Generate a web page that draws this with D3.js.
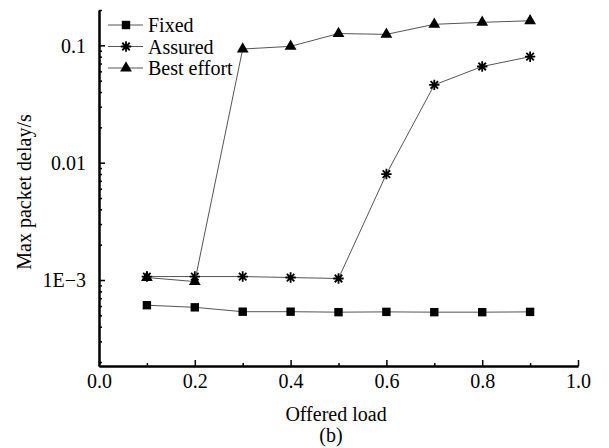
<!DOCTYPE html>
<meta charset="utf-8">
<style>
body { margin: 0; background: #fff; }
svg text { font-family: "Liberation Serif", "Times New Roman", Times, "Nimbus Roman", FreeSerif, "DejaVu Serif", serif; }
.axis path, .axis line { stroke: #000; }
.axis path { stroke-width: 2; }
.axis line { stroke-width: 1.5; }
.axis text { font-size: 20px; fill: #000; }
.series { fill: none; stroke: #555; stroke-width: 1; }
.label { font-size: 20px; fill: #000; }
</style>
<svg width="609" height="448"></svg>
<script src="https://d3js.org/d3.v7.min.js"></script>
<script>
var loads = [0.1, 0.2, 0.3, 0.4, 0.5, 0.6, 0.7, 0.8, 0.9];
var fixed = [6.1e-4, 5.85e-4, 5.37e-4, 5.37e-4, 5.32e-4, 5.35e-4, 5.32e-4, 5.32e-4, 5.35e-4];
var assured = [1.07e-3, 1.07e-3, 1.07e-3, 1.05e-3, 1.03e-3, 0.008, 0.046, 0.066, 0.08];
var bestEffort = [1.05e-3, 0.97e-3, 0.093, 0.098, 0.126, 0.124, 0.151, 0.157, 0.162];
var seriesNames = ["Fixed", "Assured", "Best effort"];
var xTicks = [0, 0.2, 0.4, 0.6, 0.8, 1.0];
var xMinor = [0.1, 0.3, 0.5, 0.7, 0.9];
var yTicks = [1e-3, 0.01, 0.1];
var yTickLabels = ["1E\u22123", "0.01", "0.1"];

var svg = d3.select("svg");

var x = d3.scaleLinear().domain([0, 1.0]).range([99, 578]);
var y = d3.scaleLog().domain([1.85e-4, 0.2]).range([366, 10]);

// minor log ticks 2..9 of each decade
var yMinor = [];
[1e-4, 1e-3, 1e-2, 1e-1].forEach(function(d) {
  for (var k = 2; k <= 9; k++) {
    var v = k * d;
    if (v >= y.domain()[0] && v <= y.domain()[1] * 1.0001) yMinor.push(v);
  }
});

// x axis
svg.append("g")
    .attr("class", "axis")
    .attr("transform", "translate(0,366)")
    .call(d3.axisBottom(x).tickValues(xMinor).tickSizeInner(-3).tickSizeOuter(0).tickFormat(""));
svg.append("g")
    .attr("class", "axis")
    .attr("transform", "translate(0,366)")
    .call(d3.axisBottom(x).tickValues(xTicks).tickSizeInner(-6).tickSizeOuter(0)
      .tickPadding(8).tickFormat(d3.format(".1f")))
  .selectAll("text")
    .attr("dy", "0.71em");

// y axis
svg.append("g")
    .attr("class", "axis")
    .attr("transform", "translate(99,0)")
    .call(d3.axisLeft(y).tickValues(yMinor).tickSizeInner(-3).tickSizeOuter(0).tickFormat(""));
svg.append("g")
    .attr("class", "axis")
    .attr("transform", "translate(99,0)")
    .call(d3.axisLeft(y).tickValues(yTicks).tickSizeInner(-6).tickSizeOuter(0)
      .tickPadding(13).tickFormat(function(d, i) { return yTickLabels[i]; }))
  .selectAll("text")
    .attr("dy", "0.34em");

svg.selectAll(".axis").attr("font-family", null);

// axis titles
svg.append("text")
    .attr("class", "label")
    .attr("text-anchor", "middle")
    .attr("transform", "translate(31,192) rotate(-90)")
    .text("Max packet delay/s");
svg.append("text")
    .attr("class", "label")
    .attr("text-anchor", "middle")
    .attr("x", 336)
    .attr("y", 421)
    .text("Offered load");
svg.append("text")
    .attr("class", "label")
    .attr("text-anchor", "middle")
    .attr("x", 331)
    .attr("y", 442)
    .text("(b)");

// markers
function asterisk(r) {
  var a = r * 0.72;
  return "M" + (-r) + ",0H" + r + "M0," + (-r) + "V" + r +
    "M" + (-a) + "," + (-a) + "L" + a + "," + a +
    "M" + (-a) + "," + a + "L" + a + "," + (-a);
}
function drawMarker(g, kind) {
  if (kind === 0) {
    g.append("rect").attr("x", -4.2).attr("y", -4.2).attr("width", 8.4).attr("height", 8.4).attr("fill", "#000");
  } else if (kind === 1) {
    g.append("path").attr("d", asterisk(5.2)).attr("stroke", "#000").attr("stroke-width", 1.8).attr("fill", "none");
  } else {
    g.append("path").attr("d", d3.symbol().type(d3.symbolTriangle).size(60)()).attr("fill", "#000");
  }
}

var allSeries = [fixed, assured, bestEffort];
var line = d3.line()
    .x(function(d, i) { return x(loads[i]); })
    .y(function(d) { return y(d); });

allSeries.forEach(function(vals, s) {
  svg.append("path")
      .attr("class", "series")
      .attr("d", line(vals));
  vals.forEach(function(v, i) {
    var g = svg.append("g").attr("transform", "translate(" + x(loads[i]) + "," + y(v) + ")");
    drawMarker(g, s);
  });
});

// legend
var legendY = [25, 46.5, 68];
seriesNames.forEach(function(name, s) {
  var ly = legendY[s];
  svg.append("line")
      .attr("x1", 108).attr("x2", 143)
      .attr("y1", ly).attr("y2", ly)
      .attr("stroke", "#555").attr("stroke-width", 1);
  drawMarker(svg.append("g").attr("transform", "translate(126," + ly + ")"), s);
  svg.append("text")
      .attr("class", "label")
      .attr("x", 148)
      .attr("y", ly + 7)
      .text(name);
});
</script>
